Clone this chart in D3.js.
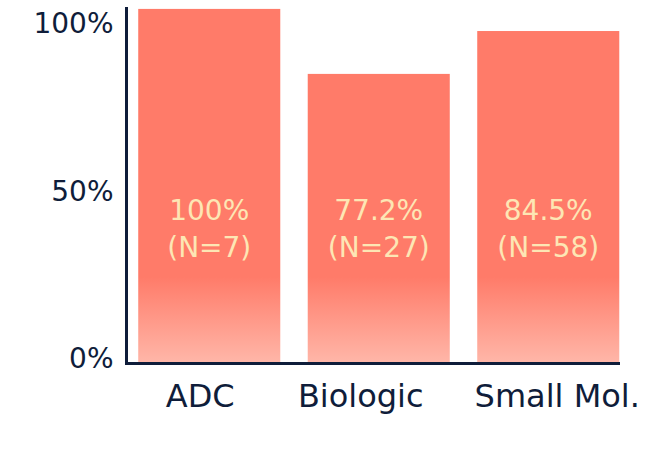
<!DOCTYPE html>
<html>
<head>
<meta charset="utf-8">
<script src="https://cdn.jsdelivr.net/npm/d3@7"></script>
<style>
  body { margin: 0; background: #fff; }
  svg text { font-family: "DejaVu Sans", sans-serif; }
</style>
</head>
<body>
<div class="chart"></div>
<script>
/* 데이터 */
const categories = ['ADC', 'Biologic', 'Small Mol.'];
const barValues = [105.4, 86.0, 98.8]; // 그림에서 읽은 막대 높이(%)
const rateLabels = ['100%', '77.2%', '84.5%'];
const countLabels = ['(N=7)', '(N=27)', '(N=58)'];
const yTicks = [0, 50, 100];

/* 공통 옵션 */
const width = 647;
const height = 451;
const barTop = '#ff7b69';
const barBottom = '#ffb6a8';
const axisColor = '#0f1d3a';
const labelColor = '#fde6b4';
const catShift = [-9, -18, 9]; // 원본에서 x축 라벨이 막대 중심에서 살짝 어긋나 있음

const svg = d3.select('.chart')
  .append('svg')
  .attr('width', width)
  .attr('height', height);

// 막대 그라데이션
const grad = svg.append('defs').append('linearGradient')
  .attr('id', 'barGrad')
  .attr('gradientUnits', 'userSpaceOnUse')
  .attr('x1', 0).attr('x2', 0)
  .attr('y1', 277).attr('y2', 362);
grad.append('stop').attr('offset', '0%').attr('stop-color', barTop);
grad.append('stop').attr('offset', '100%').attr('stop-color', barBottom);

const x = d3.scaleBand()
  .domain(categories)
  .range([124.5, 633])
  .paddingInner(0.162)
  .paddingOuter(0.081);

const y = d3.scaleLinear()
  .domain([0, 100])
  .range([362, 27]);

// 막대
svg.selectAll('rect.bar')
  .data(categories)
  .join('rect')
  .attr('class', 'bar')
  .attr('x', d => x(d))
  .attr('width', x.bandwidth())
  .attr('y', (d, i) => y(barValues[i]))
  .attr('height', (d, i) => y(0) - y(barValues[i]))
  .attr('fill', 'url(#barGrad)');

// 막대 안 값
svg.selectAll('text.rate')
  .data(categories)
  .join('text')
  .attr('class', 'rate')
  .attr('x', d => x(d) + x.bandwidth() / 2)
  .attr('y', y(0) - 142)
  .attr('text-anchor', 'middle')
  .attr('font-size', 28)
  .attr('fill', labelColor)
  .text((d, i) => rateLabels[i]);

svg.selectAll('text.count')
  .data(categories)
  .join('text')
  .attr('class', 'count')
  .attr('x', d => x(d) + x.bandwidth() / 2)
  .attr('y', y(0) - 105)
  .attr('text-anchor', 'middle')
  .attr('font-size', 28)
  .attr('fill', labelColor)
  .text((d, i) => countLabels[i]);

// y축
const yAxisG = svg.append('g')
  .attr('transform', 'translate(126.5,0)')
  .call(d3.axisLeft(y).tickValues(yTicks).tickFormat(d => d + '%').tickSize(0).tickPadding(13));
yAxisG.select('.domain').remove();
yAxisG.selectAll('text')
  .attr('font-size', 28)
  .attr('fill', axisColor)
  .attr('dy', '0.2em')
  .style('font-family', '"DejaVu Sans", sans-serif');

svg.append('line')
  .attr('x1', 126.5).attr('x2', 126.5)
  .attr('y1', 7).attr('y2', 365)
  .attr('stroke', axisColor)
  .attr('stroke-width', 3);

// x축
const xAxisG = svg.append('g')
  .attr('transform', `translate(0,${y(0)})`)
  .call(d3.axisBottom(x).tickSize(0).tickPadding(22));
xAxisG.select('.domain').remove();
xAxisG.selectAll('text')
  .attr('font-size', 32)
  .attr('fill', axisColor)
  .attr('dx', (d, i) => catShift[i])
  .style('font-family', '"DejaVu Sans", sans-serif');

svg.append('line')
  .attr('x1', 125).attr('x2', 620)
  .attr('y1', 363.5).attr('y2', 363.5)
  .attr('stroke', axisColor)
  .attr('stroke-width', 3);
</script>
</body>
</html>
